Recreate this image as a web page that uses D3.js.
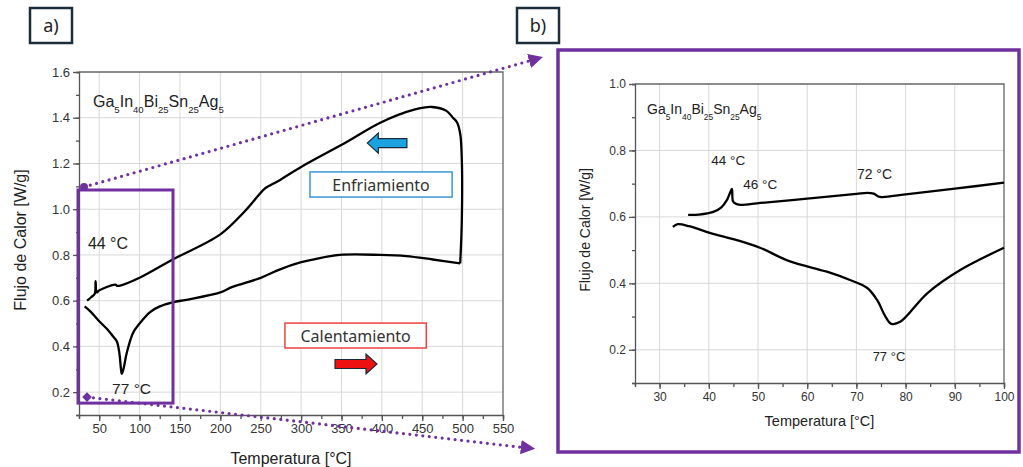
<!DOCTYPE html>
<html>
<head>
<meta charset="utf-8">
<script src="https://cdn.jsdelivr.net/npm/d3@7"></script>
<style>
  body { margin: 0; background: #fff; }
  svg { display: block; }
</style>
</head>
<body>
<div id="chart"></div>
<script>

// data

// panel a) full range, heating curve (lower) then the cooling loop (upper)
let leftHeatT = [32, 40, 50, 60, 68, 72, 75, 77, 78, 80, 84, 92, 100, 113, 125, 141, 160, 200, 215, 250, 274, 299, 315, 348, 398, 430, 463, 497];
let leftHeatV = [0.575, 0.55, 0.51, 0.475, 0.44, 0.42, 0.37, 0.30, 0.28, 0.30, 0.37, 0.46, 0.50, 0.55, 0.575, 0.593, 0.605, 0.636, 0.66, 0.70, 0.737, 0.767, 0.78, 0.80, 0.80, 0.795, 0.78, 0.763];

let leftCoolT = [497, 499, 499, 497, 493, 488, 480, 462, 440, 398, 357, 300, 270, 262, 255, 230, 200, 141, 100, 75, 72, 70, 50, 47, 45.5, 44.5, 40, 35];
let leftCoolV = [0.763, 0.95, 1.217, 1.33, 1.38, 1.40, 1.43, 1.447, 1.435, 1.378, 1.295, 1.185, 1.12, 1.105, 1.09, 0.99, 0.89, 0.78, 0.70, 0.665, 0.665, 0.67, 0.645, 0.636, 0.685, 0.63, 0.615, 0.60];

// panel b) zoom 25 - 100 °C
let rightCoolT = [35.8, 38, 40.9, 42.5, 43.7, 44.3, 44.7, 44.9, 45.4, 46.4, 50.5, 60, 70, 72.2, 73.5, 74.8, 80, 90, 100];
let rightCoolV = [0.606, 0.607, 0.615, 0.628, 0.651, 0.672, 0.684, 0.648, 0.640, 0.636, 0.642, 0.655, 0.669, 0.672, 0.670, 0.660, 0.668, 0.685, 0.703];

let rightHeatT = [32.7, 33.7, 36, 40.2, 45.7, 50.4, 56.5, 64, 68.7, 72.2, 74.2, 75.9, 77.1, 78.9, 84.4, 91.1, 100];
let rightHeatV = [0.57, 0.578, 0.572, 0.552, 0.53, 0.507, 0.466, 0.435, 0.41, 0.386, 0.35, 0.30, 0.278, 0.284, 0.37, 0.44, 0.507];

// tick labels
let leftXTicks = [50, 100, 150, 200, 250, 300, 350, 400, 450, 500, 550];
let leftYTicks = [0.2, 0.4, 0.6, 0.8, 1.0, 1.2, 1.4, 1.6];
let rightXTicks = [30, 40, 50, 60, 70, 80, 90, 100];
let rightYTicks = [0.2, 0.4, 0.6, 0.8, 1.0];

let zip = (ts, vs) => ts.map((t, i) => ({ t: t, v: vs[i] }));

let W = 1023, H = 467;
let svg = d3.select("#chart")
  .append("svg")
    .attr("width", W)
    .attr("height", H);

svg.append("rect").attr("width", W).attr("height", H).attr("fill", "#fff");

let purple = "#7030a0";
let axisFont = "Liberation Sans, Arial, sans-serif";
let noteFont = "Noto Sans, Open Sans, sans-serif";

// draws one DSC panel, returns its scales
function panel(o) {
  let x = d3.scaleLinear().domain(o.xDomain).range([o.left, o.right]);
  let y = d3.scaleLinear().domain(o.yDomain).range([o.bottom, o.top]);
  let g = svg.append("g");

  // grid
  g.selectAll("xGrid")
    .data(o.xTicks.filter(d => d < o.xDomain[1]))
    .join("line")
    .attr("x1", d => x(d)).attr("x2", d => x(d))
    .attr("y1", o.top).attr("y2", o.bottom)
    .attr("stroke", "#d8d8d8").attr("stroke-width", 1);

  g.selectAll("yGrid")
    .data(o.yTicks.filter(d => d < o.yDomain[1]))
    .join("line")
    .attr("x1", o.left).attr("x2", o.right)
    .attr("y1", d => y(d)).attr("y2", d => y(d))
    .attr("stroke", "#d8d8d8").attr("stroke-width", 1);

  // frame top / right
  g.append("path")
    .attr("d", `M${o.left},${o.top}H${o.right}V${o.bottom}`)
    .attr("fill", "none").attr("stroke", "#666").attr("stroke-width", 1.3);

  // x axis
  let xMinor = d3.range(o.xDomain[0], o.xDomain[1] + 0.01, o.xMinor);
  g.append("g")
    .attr("transform", `translate(0,${o.bottom})`)
    .call(d3.axisBottom(x).tickValues(xMinor).tickSize(4).tickFormat(""))
    .call(a => a.selectAll("line, path").attr("stroke", "#555").attr("stroke-width", 1.3));
  g.append("g")
    .attr("transform", `translate(0,${o.bottom})`)
    .call(d3.axisBottom(x).tickValues(o.xTicks).tickSize(6).tickPadding(3))
    .call(a => a.select(".domain").remove())
    .call(a => a.selectAll("line").attr("stroke", "#555").attr("stroke-width", 1.3))
    .call(a => a.selectAll("text").attr("fill", "#333")
      .style("font-family", axisFont).style("font-size", o.tickSize + "px"));

  // y axis
  let yMinor = d3.range(o.yDomain[0], o.yDomain[1] + 0.001, 0.1);
  g.append("g")
    .attr("transform", `translate(${o.left},0)`)
    .call(d3.axisLeft(y).tickValues(yMinor).tickSize(3).tickFormat(""))
    .call(a => a.selectAll("line, path").attr("stroke", "#555").attr("stroke-width", 1.3));
  g.append("g")
    .attr("transform", `translate(${o.left},0)`)
    .call(d3.axisLeft(y).tickValues(o.yTicks).tickSize(6).tickPadding(3).tickFormat(d3.format(".1f")))
    .call(a => a.select(".domain").remove())
    .call(a => a.selectAll("line").attr("stroke", "#555").attr("stroke-width", 1.3))
    .call(a => a.selectAll("text").attr("fill", "#333")
      .style("font-family", axisFont).style("font-size", o.tickSize + "px"));

  // axis titles
  g.append("text")
    .attr("x", (o.left + o.right) / 2)
    .attr("y", o.xTitleY)
    .attr("text-anchor", "middle")
    .style("font-family", axisFont)
    .style("font-size", o.titleSize + "px")
    .attr("fill", "#222")
    .text("Temperatura [°C]");

  g.append("text")
    .attr("transform", `translate(${o.yTitleX},${o.yTitleC}) rotate(-90)`)
    .attr("text-anchor", "middle")
    .style("font-family", axisFont)
    .style("font-size", o.yTitleSize + "px")
    .attr("fill", "#222")
    .text("Flujo de Calor [W/g]");

  // alloy label with subscripts
  let lab = g.append("text")
    .attr("x", o.labX).attr("y", o.labY)
    .style("font-family", axisFont)
    .style("font-size", o.labSize + "px")
    .attr("fill", "#222");
  let sh = o.labSize * 0.4;
  [["Ga", "5"], ["In", "40"], ["Bi", "25"], ["Sn", "25"], ["Ag", "5"]].forEach((p, i) => {
    lab.append("tspan").attr("dy", i === 0 ? 0 : -sh).text(p[0]);
    lab.append("tspan").attr("dy", sh)
      .style("font-size", (o.labSize * 0.6) + "px").text(p[1]);
  });

  // curves
  let line = d3.line()
    .x(d => x(d.t))
    .y(d => y(d.v))
    .curve(d3.curveCatmullRom.alpha(0.5));

  o.series.forEach(s => {
    g.append("path")
      .datum(s)
      .attr("fill", "none")
      .attr("stroke", "#000")
      .attr("stroke-width", 2.3)
      .attr("stroke-linejoin", "round")
      .attr("d", line);
  });

  return { x: x, y: y, g: g };
}

// ---------- panel a)
let a = panel({
  xDomain: [25, 550], yDomain: [0.1, 1.6],
  left: 79, right: 503, top: 72, bottom: 415,
  xTicks: leftXTicks, yTicks: leftYTicks, xMinor: 25,
  tickSize: 13, titleSize: 16, yTitleSize: 16,
  xTitleY: 464, yTitleX: 26, yTitleC: 240,
  labX: 93, labY: 107, labSize: 16,
  series: [zip(leftHeatT, leftHeatV), zip(leftCoolT, leftCoolV)]
});

// ---------- panel b)
svg.append("rect")
  .attr("x", 558).attr("y", 50)
  .attr("width", 461).attr("height", 402)
  .attr("fill", "none")
  .attr("stroke", purple).attr("stroke-width", 3.5);

let b = panel({
  xDomain: [25, 100], yDomain: [0.1, 1.0],
  left: 635, right: 1004, top: 84, bottom: 383,
  xTicks: rightXTicks, yTicks: rightYTicks, xMinor: 5,
  tickSize: 12, titleSize: 14.5, yTitleSize: 14,
  xTitleY: 426, yTitleX: 590, yTitleC: 230,
  labX: 647, labY: 114, labSize: 14,
  series: [zip(rightHeatT, rightHeatV), zip(rightCoolT, rightCoolV)]
});

// ---------- annotations
function note(p, t, v, str, size) {
  p.g.append("text")
    .attr("x", p.x(t)).attr("y", p.y(v))
    .style("font-family", axisFont)
    .style("font-size", size + "px")
    .attr("fill", "#222")
    .text(str);
}
note(a, 36, 0.825, "44 °C", 16);
note(a, 66, 0.19, "77 °C", 15.5);
note(b, 40.5, 0.757, "44 °C", 13.5);
note(b, 47.0, 0.685, "46 °C", 13.5);
note(b, 70.1, 0.715, "72 °C", 14);
note(b, 73.3, 0.165, "77 °C", 13);

// labelled boxes in panel a)
function labelBox(t0, t1, v0, v1, col, str) {
  let x0 = a.x(t0), x1 = a.x(t1), y0 = a.y(v0), y1 = a.y(v1);
  svg.append("rect")
    .attr("x", x0).attr("y", y0)
    .attr("width", x1 - x0).attr("height", y1 - y0)
    .attr("fill", "#fff")
    .attr("stroke", col).attr("stroke-width", 1.5);
  svg.append("text")
    .attr("x", (x0 + x1) / 2).attr("y", (y0 + y1) / 2 + 6)
    .attr("text-anchor", "middle")
    .style("font-family", noteFont)
    .style("font-size", "16px")
    .attr("fill", "#333")
    .text(str);
}
labelBox(311, 487, 1.163, 1.053, "#3d95d6", "Enfriamiento");
labelBox(280, 455, 0.502, 0.393, "#f04040", "Calentamiento");

// block arrows
function blockArrow(tTail, tTip, v, fill) {
  let x0 = a.x(tTail), x1 = a.x(tTip), yc = a.y(v);
  let dir = x1 > x0 ? 1 : -1;
  let hb = x1 - dir * 11;
  let pts = [[x0, yc - 4.5], [hb, yc - 4.5], [hb, yc - 10], [x1, yc], [hb, yc + 10], [hb, yc + 4.5], [x0, yc + 4.5]];
  svg.append("path")
    .attr("d", d3.line()(pts) + "Z")
    .attr("fill", fill)
    .attr("stroke", "#1a2a3a").attr("stroke-width", 1.2)
    .attr("stroke-linejoin", "miter");
}
blockArrow(431, 382, 1.289, "#1aa3e0");
blockArrow(342, 394, 0.323, "#ee1111");

// zoom frame in panel a)
let bx0 = a.x(23.8), bx1 = a.x(141.4), by0 = a.y(1.084), by1 = a.y(0.152);
svg.append("rect")
  .attr("x", bx0).attr("y", by0)
  .attr("width", bx1 - bx0).attr("height", by1 - by0)
  .attr("fill", "none")
  .attr("stroke", purple).attr("stroke-width", 3);

// dotted connector arrows
svg.append("defs").append("marker")
  .attr("id", "head")
  .attr("viewBox", "0 0 10 10")
  .attr("refX", 5).attr("refY", 5)
  .attr("markerWidth", 4.5).attr("markerHeight", 4.5)
  .attr("markerUnits", "strokeWidth")
  .attr("orient", "auto")
  .append("path")
    .attr("d", "M0,0L10,5L0,10Z")
    .attr("fill", purple);

let links = [
  { from: [bx0 + 6, by0 - 3], to: [536, 59], start: "circle" },
  { from: [bx0 + 9, by1 - 6], to: [528, 448], start: "diamond" }
];
links.forEach(l => {
  svg.append("line")
    .attr("x1", l.from[0]).attr("y1", l.from[1])
    .attr("x2", l.to[0]).attr("y2", l.to[1])
    .attr("stroke", purple)
    .attr("stroke-width", 3.2)
    .attr("stroke-linecap", "round")
    .attr("stroke-dasharray", "0 6.5")
    .attr("marker-end", "url(#head)");
  if (l.start === "circle") {
    svg.append("circle").attr("cx", l.from[0]).attr("cy", l.from[1]).attr("r", 4).attr("fill", purple);
  } else {
    svg.append("path")
      .attr("d", d3.symbol(d3.symbolDiamond2, 60)())
      .attr("transform", `translate(${l.from[0]},${l.from[1]})`)
      .attr("fill", purple);
  }
});

// panel tags
function tag(x0, str) {
  svg.append("rect")
    .attr("x", x0).attr("y", 8)
    .attr("width", 42).attr("height", 35)
    .attr("fill", "#fff")
    .attr("stroke", "#1c2e3c").attr("stroke-width", 2.5);
  svg.append("text")
    .attr("x", x0 + 21).attr("y", 32)
    .attr("text-anchor", "middle")
    .style("font-family", noteFont)
    .style("font-size", "18px")
    .attr("fill", "#222")
    .text(str);
}
tag(30, "a)");
tag(517, "b)");

</script>
</body>
</html>
